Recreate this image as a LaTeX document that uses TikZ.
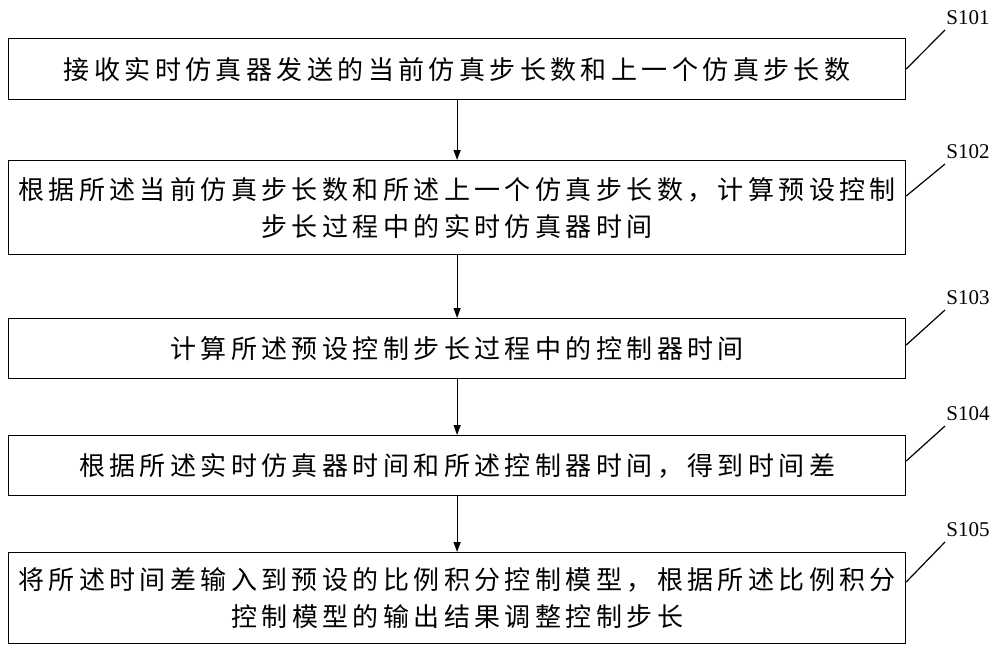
\documentclass[tikz,border=0pt]{standalone}
\usepackage{fontspec}
\setmainfont{Liberation Serif}
\newfontfamily\cjk[LetterSpace=17]{Noto Sans CJK SC}
\usetikzlibrary{arrows.meta}
\begin{document}
\begin{tikzpicture}[x=1pt,y=-1pt,
  stepbox/.style={draw,line width=1.2pt,minimum width=897pt,anchor=north west,inner sep=0pt,align=center,font=\cjk\fontsize{26}{37}\selectfont},
  arr/.style={line width=1.2pt,-{Triangle[length=10pt,width=7pt]}},
  lbl/.style={font=\fontsize{21}{24}\selectfont},
  lead/.style={line width=1.2pt}]
\useasboundingbox (0,0) rectangle (1000,658);
\node[stepbox,minimum height=61pt] (b1) at (8,38) {接收实时仿真器发送的当前仿真步长数和上一个仿真步长数};
\node[stepbox,minimum height=94pt] (b2) at (8,160) {根据所述当前仿真步长数和所述上一个仿真步长数，计算预设控制\\步长过程中的实时仿真器时间};
\node[stepbox,minimum height=60pt] (b3) at (8,318) {计算所述预设控制步长过程中的控制器时间};
\node[stepbox,minimum height=60pt] (b4) at (8,435) {根据所述实时仿真器时间和所述控制器时间，得到时间差};
\node[stepbox,minimum height=91pt] (b5) at (8,552) {将所述时间差输入到预设的比例积分控制模型，根据所述比例积分\\控制模型的输出结果调整控制步长};
\draw[arr] (b1.south) -- (b2.north);
\draw[arr] (b2.south) -- (b3.north);
\draw[arr] (b3.south) -- (b4.north);
\draw[arr] (b4.south) -- (b5.north);
\node[lbl] (l1) at (968,18) {S101};
\node[lbl] (l2) at (968,152) {S102};
\node[lbl] (l3) at (968,298) {S103};
\node[lbl] (l4) at (968,414) {S104};
\node[lbl] (l5) at (968,530) {S105};
\coordinate (e1) at (945,30); \coordinate (e2) at (945,164);
\coordinate (e3) at (945,310); \coordinate (e4) at (945,426); \coordinate (e5) at (945,542);
\draw[lead] (b1.east |- 0,69) -- (e1);
\draw[lead] (b2.east |- 0,196) -- (e2);
\draw[lead] (b3.east |- 0,345) -- (e3);
\draw[lead] (b4.east |- 0,461) -- (e4);
\draw[lead] (b5.east |- 0,582) -- (e5);
\end{tikzpicture}
\end{document}
